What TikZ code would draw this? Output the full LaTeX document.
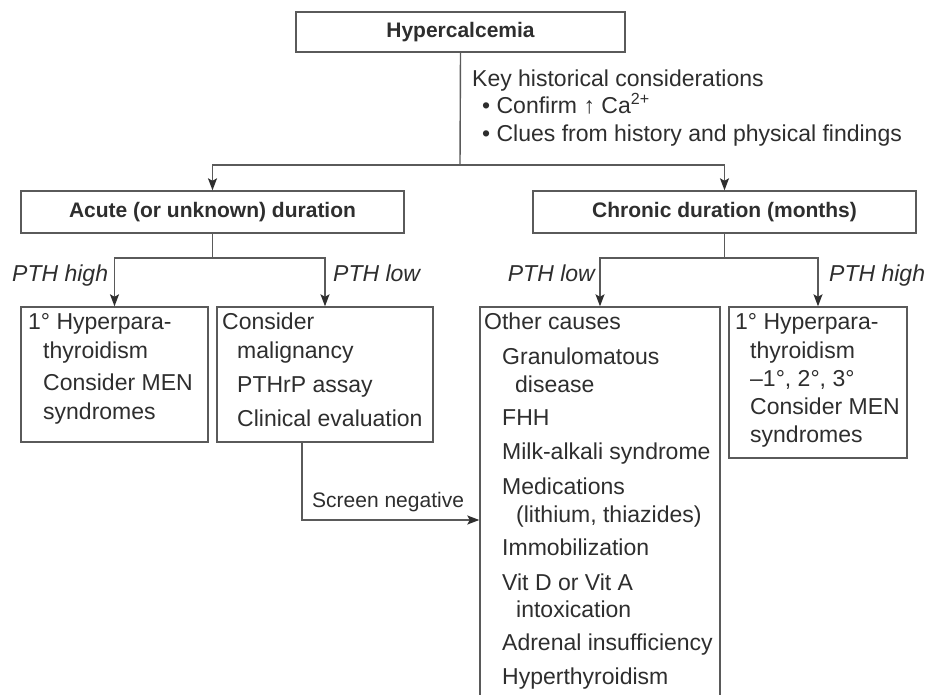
\documentclass[tikz,border=0pt]{standalone}
\usepackage{fontspec}
\setmainfont{Liberation Sans}
\usetikzlibrary{arrows.meta}
\definecolor{ln}{HTML}{5A5A5A}
\definecolor{tx}{HTML}{2E2E2E}
\tikzset{
  box/.style={draw=ln, line width=1.4pt, rectangle, inner sep=0pt, text=tx},
  hdr/.style={box, font=\fontsize{21}{25}\selectfont\bfseries},
  txt/.style={inner sep=0pt, text=tx, font=\fontsize{23}{28}\selectfont, anchor=base west},
  txe/.style={txt, anchor=base east},
  itx/.style={txt, font=\fontsize{23}{28}\selectfont\itshape},
  itxe/.style={itx, anchor=base east},
  conn/.style={draw=ln, line width=1.4pt},
  arr/.style={conn, -{Stealth[length=12pt,width=9pt,inset=2.5pt,color=tx]}}
}
\begin{document}
\begin{tikzpicture}[x=1pt,y=-1pt]
\clip (0,0) rectangle (930,695);
\fill[white] (0,0) rectangle (930,695);

% boxes
\node[hdr, minimum width=329pt, minimum height=40pt] (hyp) at (460.5,32) {Hypercalcemia};
\node[hdr, minimum width=383pt, minimum height=42pt] (acute) at (212.5,212) {Acute (or unknown) duration};
\node[hdr, minimum width=383pt, minimum height=42pt] (chronic) at (724.5,212) {Chronic duration (months)};
\node[box, minimum width=187pt, minimum height=135pt] (ahigh) at (114.5,374.5) {};
\node[box, minimum width=216pt, minimum height=135pt] (alow) at (325,374.5) {};
\node[box, minimum width=240pt, minimum height=440pt] (other) at (600,527) {};
\node[box, minimum width=178pt, minimum height=151pt] (chigh) at (818,382.5) {};

% connectors
\coordinate (j1) at (460,165);
\coordinate (j2) at (212.5,258);
\coordinate (j3) at (724.5,258);
\coordinate (sn) at (302,520);
\draw[conn] (hyp.south) -- (j1);
\draw[arr] (j1) -| (acute.north);
\draw[arr] (j1) -| (chronic.north);
\draw[conn] (acute.south) -- (j2);
\draw[arr] (j2) -| (ahigh.north);
\draw[arr] (j2) -| (alow.north);
\draw[conn] (chronic.south) -- (j3);
\draw[arr] (j3) -| (other.north);
\draw[arr] (j3) -| (chigh.north);
\draw[arr] (alow.south -| sn) |- (other.west |- sn);

% key considerations
\node[txt] (k1) at (472,87) {Key historical considerations};
\node[txt] (k2) at (482,114) {• Confirm ↑ Ca\textsuperscript{2+}};
\node[txt] (k3) at (482,142) {• Clues from history and physical findings};

% PTH labels
\node[itx] (l1) at (12,282) {PTH high};
\node[itx] (l2) at (333,282) {PTH low};
\node[itxe] (l3) at (595,282) {PTH low};
\node[itx] (l4) at (829,282) {PTH high};
\node[txt, font=\fontsize{21}{25}\selectfont] (l5) at (312,507) {Screen negative};

% box 1
\node[txt] (a1) at (28,330) {1° Hyperpara-};
\node[txt] (a2) at (43,359) {thyroidism};
\node[txt] (a3) at (43,390) {Consider MEN};
\node[txt] (a4) at (43,419) {syndromes};

% box 2
\node[txt] (b1) at (222,330) {Consider};
\node[txt] (b2) at (237,359) {malignancy};
\node[txt] (b3) at (237,392) {PTHrP assay};
\node[txt] (b4) at (237,426) {Clinical evaluation};

% box 4
\node[txt] (d1) at (735,330) {1° Hyperpara-};
\node[txt] (d2) at (750,359) {thyroidism};
\node[txt] (d3) at (750,386) {–1°, 2°, 3°};
\node[txt] (d4) at (750,414) {Consider MEN};
\node[txt] (d5) at (750,442) {syndromes};

% other causes
\node[txt] (c1) at (484,330) {Other causes};
\node[txt] (c2) at (502,364) {Granulomatous};
\node[txt] (c3) at (515,392) {disease};
\node[txt] (c4) at (502,425) {FHH};
\node[txt] (c5) at (502,459) {Milk-alkali syndrome};
\node[txt] (c6) at (502,494) {Medications};
\node[txt] (c7) at (516,522) {(lithium, thiazides)};
\node[txt] (c8) at (502,555) {Immobilization};
\node[txt] (c9) at (502,590) {Vit D or Vit A};
\node[txt] (c10) at (516,617) {intoxication};
\node[txt] (c11) at (502,650) {Adrenal insufficiency};
\node[txt] (c12) at (502,684) {Hyperthyroidism};
\end{tikzpicture}
\end{document}
